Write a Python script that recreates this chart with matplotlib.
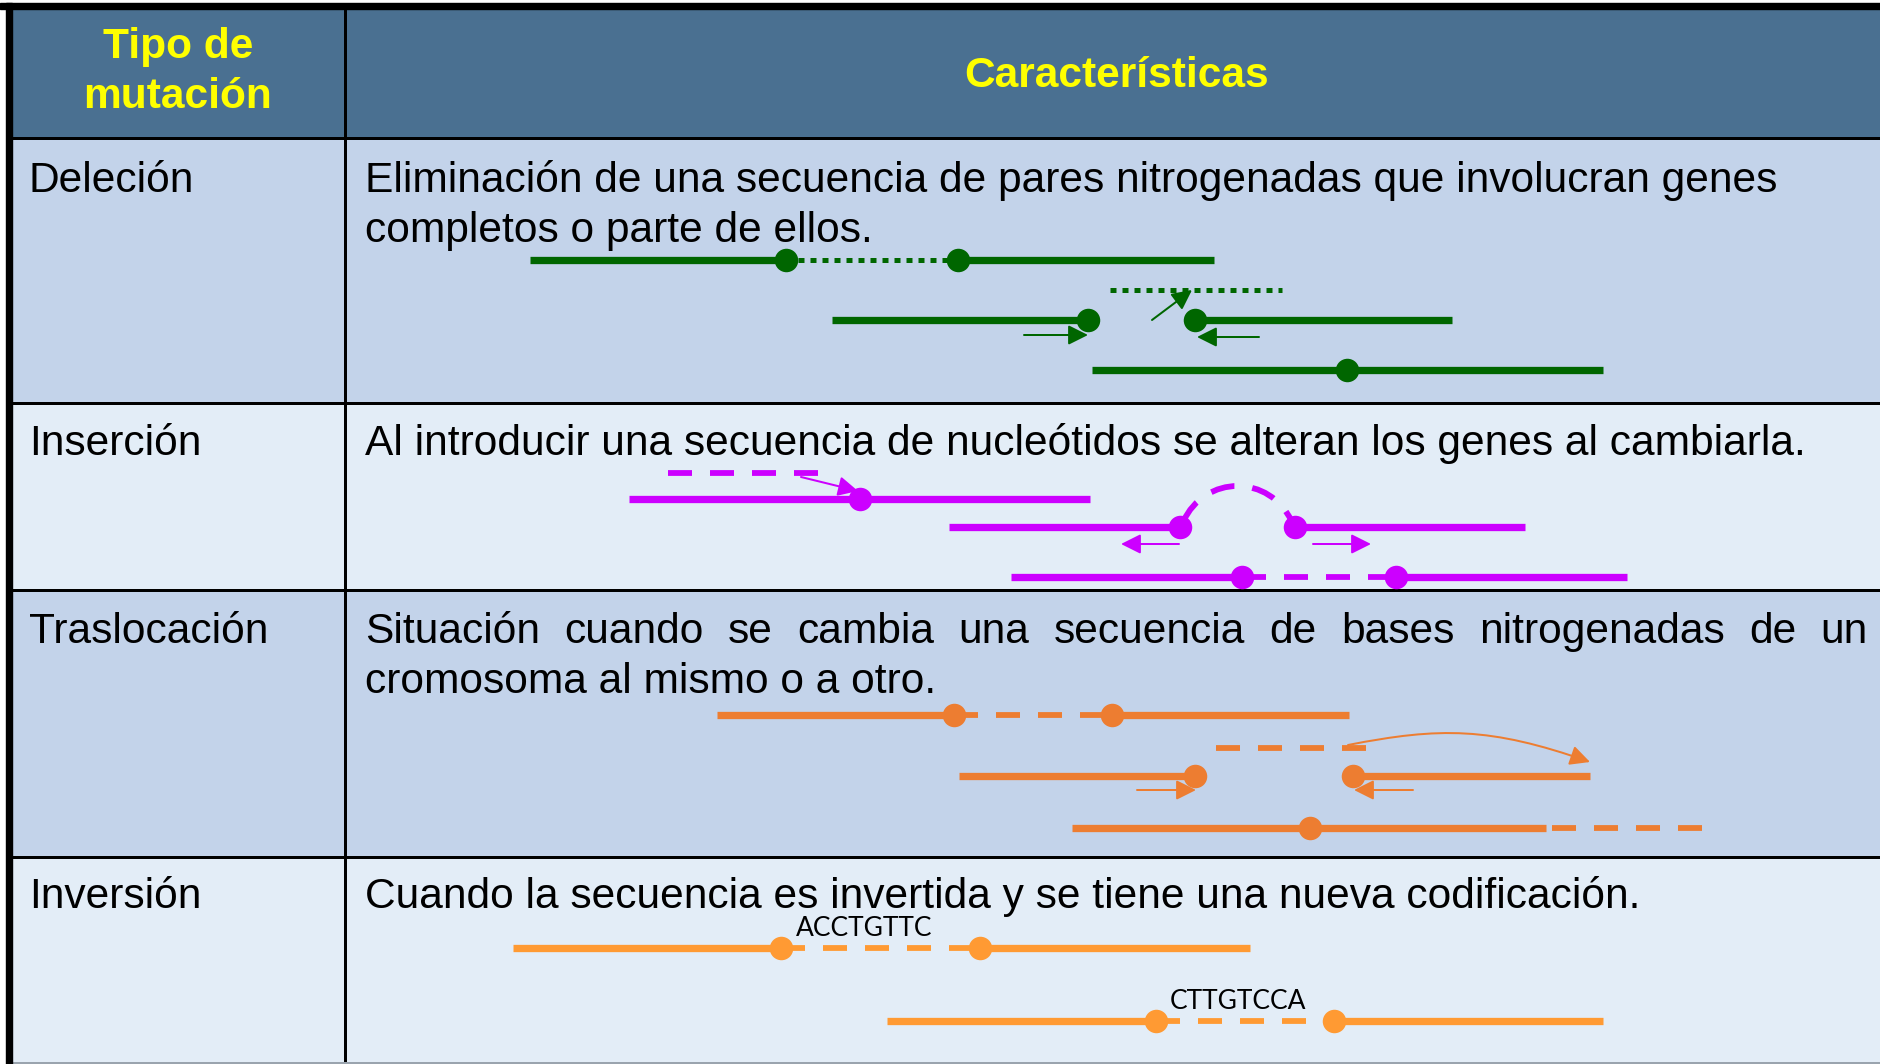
import matplotlib
matplotlib.use("Agg")
import matplotlib.pyplot as plt
from matplotlib.patches import Rectangle, FancyArrowPatch, PathPatch
from matplotlib.path import Path

plt.rcParams["lines.scale_dashes"] = False

W, H = 1881, 1064
PT = 0.72  # points per pixel at dpi 100

# ---------------- data ----------------
header_left = ["Tipo de", "mutación"]
header_right = "Características"
mutation_types = ["Deleción", "Inserción", "Traslocación", "Inversión"]
descriptions = [
    ["Eliminación de una secuencia de pares nitrogenadas que involucran genes",
     "completos o parte de ellos."],
    ["Al introducir una secuencia de nucleótidos se alteran los genes al cambiarla."],
    ["Situación cuando se cambia una secuencia de bases nitrogenadas de un",
     "cromosoma al mismo o a otro."],
    ["Cuando la secuencia es invertida y se tiene una nueva codificación."],
]
justified_first_line = [False, False, True, False]
row_edges = [138, 403, 590, 857, 1064]
row_colors = ["#C3D3EA", "#E3EDF7", "#C3D3EA", "#E3EDF7"]
text_baselines = [[192, 242], [455], [643, 693], [908]]
series_colors = ["#006600", "#CC00FF", "#ED7D31", "#FF9A33"]

# diagram data: (x0, x1, y)
del_solid = [(530, 786, 260), (958, 1214, 260), (832, 1088, 320),
             (1195, 1452, 320), (1092, 1603, 370)]
del_dotted = [(786, 958, 260), (1110, 1282, 290)]
del_dots = [(786, 260), (958, 260), (1088, 320), (1195, 320), (1347, 370)]
del_arrows = [((1024, 335), (1088, 335)), ((1259, 337), (1197, 337)),
              ((1152, 320), (1192, 290))]

ins_solid = [(629, 1090, 499), (949, 1180, 527), (1295, 1525, 527),
             (1011, 1242, 577), (1396, 1627, 577)]
ins_dashed = [(668, 819, 473), (1242, 1396, 577)]
ins_arc = [(1183, 522), (1205, 474), (1270, 474), (1292, 522)]
ins_dots = [(860, 499), (1180, 527), (1295, 527), (1242, 577), (1396, 577)]
ins_arrows = [((801, 477), (858, 491)), ((1179, 544), (1121, 544)),
              ((1313, 544), (1371, 544))]

tra_solid = [(717, 954, 715), (1112, 1349, 715), (959, 1195, 776),
             (1353, 1590, 776), (1072, 1546, 828)]
tra_dashed = [(954, 1112, 715), (1216, 1366, 748), (1552, 1703, 828)]
tra_dots = [(954, 715), (1112, 715), (1195, 776), (1353, 776), (1310, 828)]
tra_arrows = [((1137, 790), (1196, 790)), ((1413, 790), (1354, 790))]
tra_curve = [(1348, 745), (1440, 727), (1490, 727), (1590, 762)]

inv_solid = [(513, 781, 948), (980, 1250, 948), (887, 1156, 1021), (1334, 1603, 1021)]
inv_dashed = [(781, 980, 948), (1156, 1334, 1021)]
inv_dots = [(781, 948), (980, 948), (1156, 1021), (1334, 1021)]
inv_labels = [("ACCTGTTC", 796, 936), ("CTTGTCCA", 1170, 1009)]

# ---------------- figure ----------------
fig = plt.figure(figsize=(W / 100, H / 100), dpi=100)
ax = fig.add_axes([0, 0, 1, 1])
ax.set_xlim(0, W)
ax.set_ylim(H, 0)
ax.axis("off")

FONT = "Liberation Sans"
FS = 30.6

# backgrounds
ax.add_patch(Rectangle((12, 9), W - 12, row_edges[0] - 9, color="#4A7091", zorder=0))
for i, c in enumerate(row_colors):
    ax.add_patch(Rectangle((12, row_edges[i]), W - 12, row_edges[i + 1] - row_edges[i],
                           color=c, zorder=0))
# borders
ax.add_patch(Rectangle((0, 3), W, 6, color="black", zorder=2))
ax.add_patch(Rectangle((6, 3), 6, H - 3, color="black", zorder=2))
for y in row_edges[:-1]:
    ax.plot([12, W], [y, y], color="black", lw=3 * PT, zorder=1, solid_capstyle="butt")
ax.plot([345, 345], [9, H], color="black", lw=3 * PT, zorder=1, solid_capstyle="butt")
ax.plot([12, W], [1062.5, 1062.5], color="#9AA4AE", lw=2 * PT, zorder=1)

# header text
for line, yb in zip(header_left, [58, 108]):
    ax.text(178, yb, line, ha="center", va="baseline", color="#FFFF00",
            fontsize=FS, fontweight="bold", family=FONT, zorder=6)
ax.text(1117, 87, header_right, ha="center", va="baseline", color="#FFFF00",
        fontsize=FS, fontweight="bold", family=FONT, zorder=6)

renderer = fig.canvas.get_renderer()

for i, name in enumerate(mutation_types):
    ax.text(29, text_baselines[i][0], name, ha="left", va="baseline",
            fontsize=FS, family=FONT, color="black", zorder=6)
    for j, (line, yb) in enumerate(zip(descriptions[i], text_baselines[i])):
        if justified_first_line[i] and j == 0:
            words = line.split()
            ts = [ax.text(0, yb, w, ha="left", va="baseline", fontsize=FS,
                          family=FONT, color="black", zorder=6) for w in words]
            widths = [t.get_window_extent(renderer).width for t in ts]
            gap = (1868 - 365 - sum(widths)) / (len(words) - 1)
            x = 365
            for t, w in zip(ts, widths):
                t.set_x(x)
                x += w + gap
        else:
            ax.text(365, yb, line, ha="left", va="baseline", fontsize=FS,
                    family=FONT, color="black", zorder=6)

SOLID_LW = 7.3 * PT
DASH_LW = 5.8 * PT
DOT_MS = 23.5 * PT


def solid(segs, color):
    for x0, x1, y in segs:
        ax.plot([x0, x1], [y, y], color=color, lw=SOLID_LW, solid_capstyle="butt", zorder=3)


def dashed(segs, color, on=24, off=18, lw=DASH_LW):
    for x0, x1, y in segs:
        ax.plot([x0, x1], [y, y], color=color, lw=lw, dashes=(on * PT, off * PT),
                dash_capstyle="butt", zorder=3)


def dots(pts, color):
    xs = [p[0] for p in pts]
    ys = [p[1] for p in pts]
    ax.plot(xs, ys, "o", color=color, ms=DOT_MS, mec=color, mew=0, zorder=4)


ASTYLE = "-|>,head_length=1.2,head_width=0.6"


def arrows(arrs, color):
    for a, b in arrs:
        ax.add_patch(FancyArrowPatch(a, b, arrowstyle=ASTYLE, mutation_scale=10,
                                     lw=2 * PT, color=color, shrinkA=0, shrinkB=0,
                                     zorder=5))


# Deleción
c = series_colors[0]
solid(del_solid, c)
dashed(del_dotted, c, on=6, off=6, lw=5 * PT)
dots(del_dots, c)
arrows(del_arrows, c)

# Inserción
c = series_colors[1]
solid(ins_solid, c)
dashed(ins_dashed, c)
arc_path = Path(ins_arc, [Path.MOVETO, Path.CURVE4, Path.CURVE4, Path.CURVE4])
ax.add_patch(PathPatch(arc_path, fill=False, edgecolor=c, lw=DASH_LW,
                       linestyle=(0, (24 * PT, 18 * PT)), capstyle="butt", zorder=3))
dots(ins_dots, c)
arrows(ins_arrows, c)

# Traslocación
c = series_colors[2]
solid(tra_solid, c)
dashed(tra_dashed, c)
dots(tra_dots, c)
arrows(tra_arrows, c)
curve = Path(tra_curve, [Path.MOVETO, Path.CURVE4, Path.CURVE4, Path.CURVE4])
ax.add_patch(FancyArrowPatch(path=curve, arrowstyle=ASTYLE, mutation_scale=10,
                             lw=2 * PT, color=c, zorder=5))

# Inversión
c = series_colors[3]
solid(inv_solid, c)
dashed(inv_dashed, c)
dots(inv_dots, c)
for s, x, y in inv_labels:
    ax.text(x, y, s, ha="left", va="baseline", fontsize=19, family="Lato",
            color="black", zorder=6)

fig.savefig("out.png", dpi=100)
